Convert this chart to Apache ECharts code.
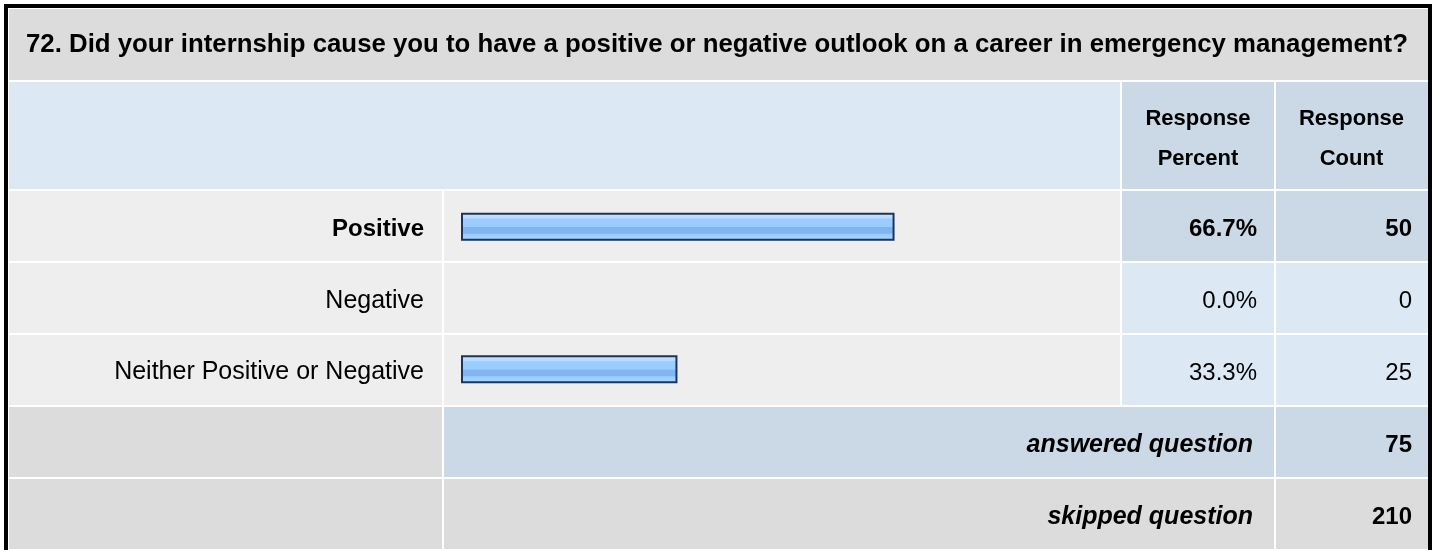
<!DOCTYPE html>
<html>
<head>
<meta charset="utf-8">
<script src="https://cdn.jsdelivr.net/npm/echarts@6/dist/echarts.min.js"></script>
<style>
html,body{margin:0;padding:0;background:#ffffff;}
#chart{width:1437px;height:550px;}
</style>
</head>
<body>
<div id="chart"></div>
<script>
// ---- data ----
const questionTitle = "72. Did your internship cause you to have a positive or negative outlook on a career in emergency management?";
const categories = ["Positive", "Negative", "Neither Positive or Negative"];
const responsePercent = [66.7, 0.0, 33.3];
const responseCount = [50, 0, 25];
const headerPercent = ["Response", "Percent"];
const headerCount = ["Response", "Count"];
const summaryLabels = ["answered question", "skipped question"];
const summaryValues = [75, 210];

// ---- layout / style ----
const FONT = '"Liberation Sans", Arial, sans-serif';
const C_GRAY = '#dcdcdc', C_ROW = '#eeeeee', C_HEAD = '#dde8f5', C_DARK = '#cbd8e6';
const colL = [9, 442], colB = [444, 1120], colP = [1122, 1274], colC = [1276, 1427];
const rowTitle = [9, 80], rowHead = [82, 189];
const rowTop0 = 191, rowH = 70, rowGap = 2;
const maxIdx = responsePercent.indexOf(Math.max.apply(null, responsePercent));

function rect(x0, x1, y0, y1, fill) {
  return {type: 'rect', silent: true, z: 0, shape: {x: x0, y: y0, width: x1 - x0, height: y1 - y0}, style: {fill: fill}};
}
function text(str, x, y, align, size, weight, style) {
  return {type: 'text', silent: true, z: 5, x: x, y: y,
    style: {text: String(str), textAlign: align, textVerticalAlign: 'middle', fill: '#000',
      font: (style || 'normal') + ' ' + (weight || 'normal') + ' ' + size + 'px ' + FONT}};
}

const g = [];
// outer border
g.push({type: 'rect', silent: true, z: 6, shape: {x: 6, y: 6, width: 1424, height: 600}, style: {fill: null, stroke: '#000', lineWidth: 4}});
// title
g.push(rect(9, 1428, rowTitle[0], rowTitle[1], C_GRAY));
g.push(text(questionTitle, 26, 45, 'left', 25.8, 'bold'));
// header
g.push(rect(colL[0], colB[1], rowHead[0], rowHead[1], C_HEAD));
g.push(rect(colP[0], colP[1], rowHead[0], rowHead[1], C_DARK));
g.push(rect(colC[0], colC[1] + 1, rowHead[0], rowHead[1], C_DARK));
[[headerPercent, colP], [headerCount, colC]].forEach(function (h) {
  const cx = (h[1][0] + h[1][1]) / 2;
  g.push(text(h[0][0], cx, 119, 'center', 22, 'bold'));
  g.push(text(h[0][1], cx, 159, 'center', 22, 'bold'));
});
// data rows
categories.forEach(function (c, i) {
  const y0 = rowTop0 + i * (rowH + rowGap), y1 = y0 + rowH;
  const bold = i === maxIdx;
  g.push(rect(colL[0], colL[1], y0, y1, C_ROW));
  g.push(rect(colB[0], colB[1], y0, y1, C_ROW));
  g.push(rect(colP[0], colP[1], y0, y1, bold ? C_DARK : C_HEAD));
  g.push(rect(colC[0], colC[1] + 1, y0, y1, bold ? C_DARK : C_HEAD));
  const ty = (y0 + y1) / 2 + 3;
  g.push(text(responsePercent[i].toFixed(1) + '%', 1257, ty, 'right', 24, bold ? 'bold' : 'normal'));
  g.push(text(responseCount[i], 1412, ty, 'right', 24, bold ? 'bold' : 'normal'));
});
// summary rows
summaryLabels.forEach(function (s, k) {
  const y0 = rowTop0 + (categories.length + k) * (rowH + rowGap), y1 = y0 + rowH;
  const mid = k === 0 ? C_DARK : C_GRAY;
  g.push(rect(colL[0], colL[1], y0, y1, C_GRAY));
  g.push(rect(colB[0], colP[1], y0, y1, mid));
  g.push(rect(colC[0], colC[1] + 1, y0, y1, mid));
  const ty = (y0 + y1) / 2 + 3;
  g.push(text(s, 1253, ty, 'right', 25, 'bold', 'italic'));
  g.push(text(summaryValues[k], 1412, ty, 'right', 24, 'bold'));
});

const chart = echarts.init(document.getElementById('chart'), null, {renderer: 'canvas'});
chart.setOption({
  animation: false,
  backgroundColor: '#ffffff',
  grid: {left: 461, width: 650, top: rowTop0, height: categories.length * (rowH + rowGap) - rowGap, containLabel: false},
  xAxis: {type: 'value', min: 0, max: 100, show: false},
  yAxis: {
    type: 'category', inverse: true, data: categories,
    axisLine: {show: false}, axisTick: {show: false}, splitLine: {show: false},
    axisLabel: {
      margin: 37, align: 'right', verticalAlign: 'middle',
      formatter: function (v, idx) { return (idx === maxIdx ? '{b|' : '{n|') + v + '}'; },
      rich: {
        b: {fontFamily: FONT, fontSize: 24, fontWeight: 'bold', color: '#000', padding: [6, 0, 0, 0]},
        n: {fontFamily: FONT, fontSize: 25, fontWeight: 'normal', color: '#000', padding: [6, 0, 0, 0]}
      }
    }
  },
  series: [{
    type: 'bar', barWidth: 28, z: 3, silent: true,
    data: responsePercent.map(function (v) {
      return v > 0 ? v : {value: v, itemStyle: {borderWidth: 0, opacity: 0}};
    }),
    itemStyle: {
      borderColor: '#1c355e', borderWidth: 2,
      color: new echarts.graphic.LinearGradient(0, 0, 0, 1, [
        {offset: 0, color: '#c9e5ff'}, {offset: 0.2, color: '#b5dbff'},
        {offset: 0.22, color: '#9dcdff'}, {offset: 0.5, color: '#99ccff'},
        {offset: 0.52, color: '#80b5f2'}, {offset: 0.74, color: '#80b5f2'},
        {offset: 0.76, color: '#99ccff'}, {offset: 1, color: '#abd6ff'}
      ])
    }
  }],
  graphic: g
});
</script>
</body>
</html>
